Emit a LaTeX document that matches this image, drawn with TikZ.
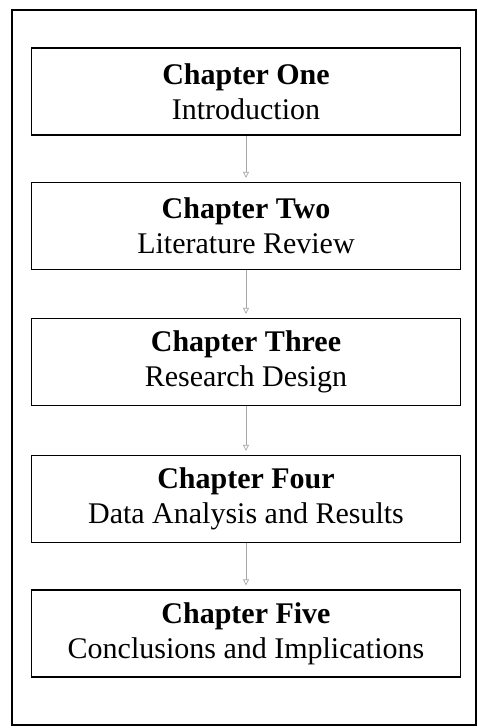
\documentclass[tikz,border=0pt]{standalone}
\usepackage{fontspec}
\setmainfont{Liberation Serif}
\usetikzlibrary{arrows.meta}

\begin{document}
\begin{tikzpicture}[x=1pt, y=-1pt,
    every node/.style={rectangle, draw, line width=1.3pt, minimum width=429pt, minimum height=87pt,
      inner sep=0pt, align=center, font=\fontsize{30}{35}\selectfont}]
      \useasboundingbox (0,0) rectangle (478,728);
      \draw[line width=1.3pt] (12,10) rectangle (476,725);
      \node (1) at (246,91.5) {\textbf{Chapter One}\\Introduction};
      \node (2) at (246,226) {\textbf{Chapter Two}\\Literature Review};
      \node (3) at (246,362) {\textbf{Chapter Three}\\Research Design};
      \node (4) at (246,499) {\textbf{Chapter Four}\\Data Analysis and Results};
      \node (5) at (246,633.5) {\textbf{Chapter Five}\\Conclusions and Implications};
      \foreach \source/\dest in {1/2, 2/3, 3/4, 4/5}
        \path (\source) edge[draw=gray!70, line width=0.7pt, shorten >=4pt,
          -{Triangle[open, length=6pt, width=6pt]}] (\dest);
    \end{tikzpicture}
\end{document}
